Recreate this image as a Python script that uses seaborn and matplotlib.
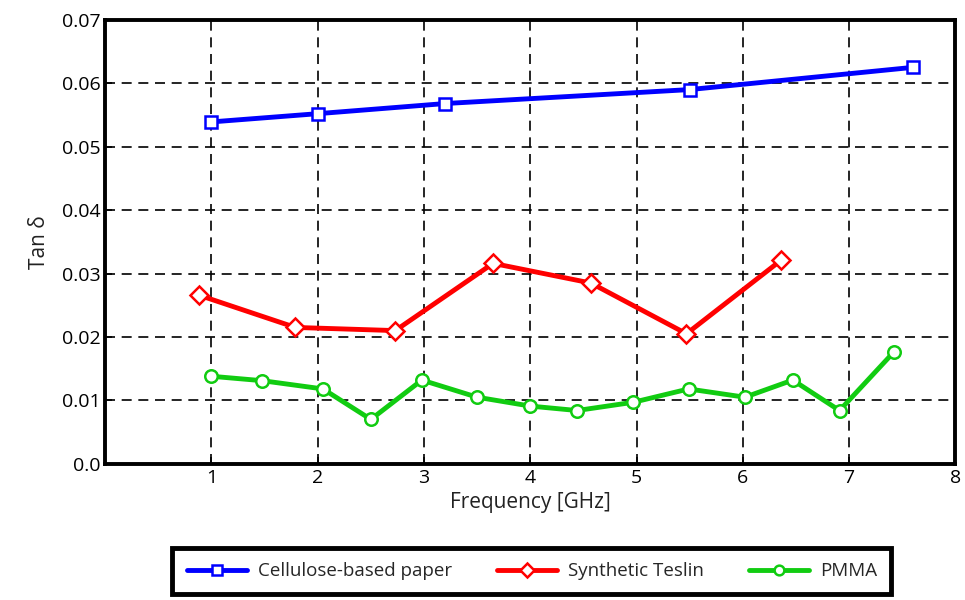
import matplotlib

matplotlib.use("Agg")

import matplotlib.pyplot as plt
import seaborn as sns
import pandas as pd

# data
paper_freq = [1.0, 2.0, 3.2, 5.5, 7.6]
paper_tan = [0.0539, 0.0552, 0.0568, 0.0590, 0.0625]

teslin_freq = [0.88, 1.79, 2.73, 3.65, 4.57, 5.47, 6.36]
teslin_tan = [0.0266, 0.0215, 0.0210, 0.0316, 0.0285, 0.0205, 0.0321]

pmma_freq = [1.0, 1.48, 2.05, 2.5, 2.98, 3.5, 4.0, 4.44, 4.97, 5.49, 6.02, 6.47, 6.91, 7.42]
pmma_tan = [0.0138, 0.0131, 0.0118, 0.0070, 0.0132, 0.0105, 0.0091, 0.0084,
            0.0097, 0.0118, 0.0105, 0.0132, 0.0084, 0.0176]

x_ticks = [1, 2, 3, 4, 5, 6, 7, 8]
y_ticks = [0.0, 0.01, 0.02, 0.03, 0.04, 0.05, 0.06, 0.07]
y_tick_labels = ["0.0", "0.01", "0.02", "0.03", "0.04", "0.05", "0.06", "0.07"]

series = [
    ("Cellulose-based paper", paper_freq, paper_tan, "#0000ff", "s", 9),
    ("Synthetic Teslin", teslin_freq, teslin_tan, "#ff0000", "D", 9),
    ("PMMA", pmma_freq, pmma_tan, "#11cc11", "o", 9),
]

sns.set_theme(style="white")
plt.rcParams["font.family"] = ["Open Sans", "DejaVu Sans"]

fig = plt.figure(figsize=(9.65, 6.0), dpi=100)
ax = fig.add_axes([0.109, 0.227, 0.881, 0.740])

for name, xs, ys, color, marker, ms in series:
    df = pd.DataFrame({"freq": xs, "tan": ys})
    sns.lineplot(
        data=df, x="freq", y="tan", ax=ax, color=color, linewidth=3.5,
        marker=marker, markersize=ms, markerfacecolor="white",
        markeredgecolor=color, markeredgewidth=1.8, label=name, sort=False,
        zorder=3,
    )

ax.set_xlim(0, 8)
ax.set_ylim(0, 0.07)
ax.set_xticks(x_ticks)
ax.set_yticks(y_ticks)
ax.set_yticklabels(y_tick_labels)
ax.tick_params(axis="both", labelsize=14, direction="in", length=5, width=1.2,
               colors="black", bottom=True, left=True)
ax.grid(True, color="black", linestyle=(0, (6, 4)), linewidth=1.2)
ax.set_axisbelow(True)
for sp in ax.spines.values():
    sp.set_color("black")
    sp.set_linewidth(2.8)

ax.set_xlabel("Frequency [GHz]", fontsize=15, color="#222222", labelpad=4)
ax.set_ylabel("Tan δ", fontsize=15, color="#222222", labelpad=8)

leg = ax.legend(
    loc="upper center", bbox_to_anchor=(0.502, -0.19), ncol=3, fontsize=13.5,
    frameon=True, fancybox=False, framealpha=1, handlelength=3.2,
    columnspacing=2.4, borderpad=0.75, handletextpad=0.6, borderaxespad=0,
)
leg.get_frame().set_edgecolor("black")
leg.get_frame().set_linewidth(3.5)
for h in leg.legend_handles:
    h.set_markersize(7)

fig.savefig("out.png", dpi=100)
